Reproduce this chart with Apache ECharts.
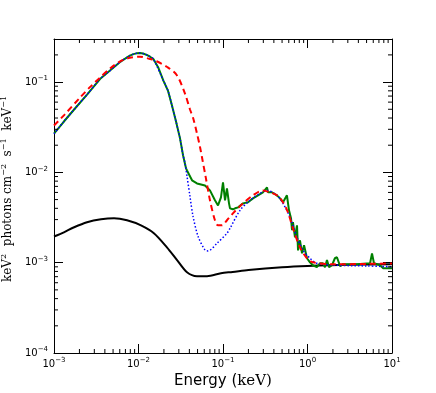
<!DOCTYPE html>
<html>
<head>
<meta charset="utf-8">
<script src="https://cdn.jsdelivr.net/npm/echarts@6.0.0/dist/echarts.min.js"></script>
<style>
  html, body { margin: 0; padding: 0; background: #fff; }
  #chart { width: 436px; height: 393px; }
</style>
</head>
<body>
<div id="chart"></div>
<script>
// energy (keV) and keV^2 flux
var blackE = [0.001, 0.00131, 0.00173, 0.00246, 0.0036, 0.00513, 0.00731, 0.0107, 0.0152, 0.0217, 0.0286, 0.0375, 0.0492, 0.0647, 0.0946, 0.13, 0.2, 0.5, 1, 3, 10];
var blackF = [1.95e-3, 2.17e-3, 2.47e-3, 2.81e-3, 3.03e-3, 3.11e-3, 2.95e-3, 2.59e-3, 2.12e-3, 1.48e-3, 1.07e-3, 7.85e-4, 7.1e-4, 7.1e-4, 7.65e-4, 7.9e-4, 8.3e-4, 8.9e-4, 9.2e-4, 9.5e-4, 9.6e-4];

var blueE = [0.001, 0.00131, 0.00173, 0.00246, 0.0035, 0.0046, 0.006, 0.0079, 0.0087, 0.0095, 0.0104, 0.0113, 0.0125, 0.0137, 0.015, 0.0197, 0.0223, 0.0249, 0.0278, 0.031, 0.0337, 0.0355, 0.0375, 0.0406, 0.0442, 0.0506, 0.0612, 0.0664, 0.0849, 0.1114, 0.121, 0.159, 0.209, 0.274, 0.332, 0.4355, 0.513, 0.621, 0.751, 0.885, 1.07, 1.29, 2, 5, 10];
var blueF = [0.0268, 0.0366, 0.0497, 0.0727, 0.108, 0.134, 0.166, 0.196, 0.204, 0.208, 0.210, 0.207, 0.200, 0.191, 0.180, 0.104, 0.0805, 0.0549, 0.0366, 0.0238, 0.0154, 0.01265, 9.08e-3, 5.46e-3, 3.27e-3, 1.97e-3, 1.38e-3, 1.35e-3, 1.64e-3, 2.12e-3, 2.4e-3, 3.8e-3, 4.91e-3, 5.85e-3, 6.32e-3, 5.57e-3, 4.54e-3, 3.18e-3, 1.91e-3, 1.37e-3, 1.12e-3, 9.87e-4, 9.4e-4, 9.2e-4, 9.0e-4];

var greenE = [0.001, 0.00131, 0.00173, 0.00246, 0.0035, 0.0046, 0.006, 0.0079, 0.0087, 0.0095, 0.0104, 0.0113, 0.0125, 0.0137, 0.015, 0.0172, 0.0197, 0.0223, 0.0249, 0.0278, 0.031, 0.0337, 0.0365, 0.0375, 0.043, 0.0492, 0.0612, 0.0701, 0.0803, 0.0873, 0.0946, 0.1, 0.1057, 0.1114, 0.1178, 0.121, 0.131, 0.139, 0.151, 0.1726, 0.1977, 0.2265, 0.2594, 0.297, 0.332, 0.341, 0.38, 0.4355, 0.473, 0.513, 0.571, 0.604, 0.638, 0.656, 0.673, 0.711, 0.751, 0.773, 0.815, 0.861, 0.91, 0.986, 1.07, 1.16, 1.29, 1.41, 1.52, 1.61, 1.7, 1.8, 1.95, 2.11, 2.23, 2.43, 2.63, 3.85, 5.5, 5.8, 6.12, 7.21, 7.82, 10];
var greenF = [0.0268, 0.0366, 0.0497, 0.0727, 0.108, 0.134, 0.166, 0.196, 0.204, 0.208, 0.210, 0.207, 0.200, 0.191, 0.180, 0.144, 0.104, 0.0805, 0.0549, 0.0366, 0.0238, 0.0154, 0.0111, 0.0105, 8.17e-3, 7.55e-3, 7.17e-3, 6.32e-3, 4.91e-3, 4.31e-3, 5.3e-3, 7.76e-3, 4.91e-3, 6.65e-3, 4.54e-3, 4.0e-3, 3.9e-3, 4.0e-3, 4.1e-3, 4.54e-3, 4.67e-3, 5.16e-3, 5.57e-3, 6.01e-3, 6.82e-3, 6.01e-3, 6.01e-3, 5.57e-3, 5.16e-3, 4.67e-3, 5.57e-3, 3.8e-3, 3.11e-3, 2.29e-3, 2.81e-3, 1.91e-3, 2.59e-3, 1.37e-3, 1.77e-3, 1.27e-3, 1.56e-3, 1.12e-3, 1.01e-3, 9.37e-4, 8.92e-4, 9.87e-4, 9.87e-4, 8.92e-4, 1.07e-3, 8.92e-4, 9.37e-4, 1.12e-3, 1.15e-3, 9.15e-4, 9.63e-4, 9.63e-4, 9.87e-4, 1.27e-3, 9.87e-4, 9.37e-4, 8.7e-4, 8.7e-4];

var redE = [0.001, 0.00131, 0.00203, 0.0027, 0.0035, 0.0046, 0.006, 0.0079, 0.0104, 0.0137, 0.0164, 0.0216, 0.0283, 0.0355, 0.0406, 0.0443, 0.0492, 0.0535, 0.0564, 0.0625, 0.0701, 0.0803, 0.0873, 0.0973, 0.1114, 0.131, 0.1726, 0.2265, 0.297, 0.36, 0.4355, 0.513, 0.587, 0.673, 0.815, 0.986, 1.16, 2, 5, 10];
var redF = [0.033, 0.0428, 0.0673, 0.089, 0.112, 0.141, 0.169, 0.186, 0.191, 0.180, 0.170, 0.148, 0.120, 0.0745, 0.05, 0.04, 0.027, 0.019, 0.0147, 8.8e-3, 4.91e-3, 2.95e-3, 2.59e-3, 2.59e-3, 2.95e-3, 3.52e-3, 4.54e-3, 5.57e-3, 6.32e-3, 6.01e-3, 5.57e-3, 4.67e-3, 3.61e-3, 2.4e-3, 1.48e-3, 1.12e-3, 1.01e-3, 9.6e-4, 9.7e-4, 9.8e-4];

// axis ranges and minor tick positions
var xMin = 1e-3, xMax = 10;
var yMin = 1e-4, yMax = 0.30;
var xMinor = [];
var yMinor = [];
[-3, -2, -1, 0].forEach(function (d) {
  for (var m = 2; m <= 9; m++) xMinor.push(m * Math.pow(10, d));
});
[-4, -3, -2, -1].forEach(function (d) {
  for (var m = 2; m <= 9; m++) {
    var v = m * Math.pow(10, d);
    if (v < yMax) yMinor.push(v);
  }
});

function pairs(xs, ys) {
  return xs.map(function (x, i) { return [x, ys[i]]; });
}

var myChart = echarts.init(document.getElementById('chart'));

var tickRich = {
  b: { fontFamily: 'DejaVu Sans', fontSize: 10, color: '#000', lineHeight: 14 },
  e: { fontFamily: 'DejaVu Sans', fontSize: 7, color: '#000', verticalAlign: 'top', lineHeight: 7 }
};
function powLabel(v) {
  var p = Math.round(Math.log(v) / Math.LN10);
  return '{b|10}{e|' + String(p).replace('-', '\u2212') + '}';
}

var axisLine = { show: true, onZero: false, lineStyle: { color: '#000', width: 1 } };
var axisTick = { show: true, inside: true, length: 9, lineStyle: { color: '#000', width: 1 } };

function minorTicks(isX) {
  return {
    type: 'custom',
    silent: true,
    clip: false,
    z: 10,
    data: isX ? xMinor.map(function (v) { return [v, yMin]; })
              : yMinor.map(function (v) { return [xMin, v]; }),
    renderItem: function (params, api) {
      var st = { stroke: '#000', lineWidth: 1 };
      var a, b;
      if (isX) {
        a = api.coord([api.value(0), yMin]);
        b = api.coord([api.value(0), yMax]);
        return { type: 'group', children: [
          { type: 'line', shape: { x1: a[0], y1: a[1], x2: a[0], y2: a[1] - 4 }, style: st },
          { type: 'line', shape: { x1: b[0], y1: b[1], x2: b[0], y2: b[1] + 4 }, style: st }
        ] };
      }
      a = api.coord([xMin, api.value(1)]);
      b = api.coord([xMax, api.value(1)]);
      return { type: 'group', children: [
        { type: 'line', shape: { x1: a[0], y1: a[1], x2: a[0] + 4, y2: a[1] }, style: st },
        { type: 'line', shape: { x1: b[0], y1: b[1], x2: b[0] - 4, y2: b[1] }, style: st }
      ] };
    }
  };
}

var option = {
  animation: false,
  grid: { left: 54, right: 44, top: 39, bottom: 40, containLabel: false, outerBoundsMode: 'none' },
  xAxis: [
    {
      type: 'log', logBase: 10, min: xMin, max: xMax, position: 'bottom',
      axisLine: axisLine, axisTick: axisTick, splitLine: { show: false },
      axisLabel: { margin: 4, formatter: powLabel, rich: tickRich },
      name: '{a|Energy (}{c|keV)}',
      nameLocation: 'middle', nameGap: 21,
      nameTextStyle: { rich: {
        a: { fontFamily: 'DejaVu Sans', fontSize: 15, color: '#000' },
        c: { fontFamily: 'DejaVu Serif', fontSize: 15, color: '#000' }
      } }
    },
    {
      type: 'log', logBase: 10, min: xMin, max: xMax, position: 'top',
      axisLine: axisLine, axisTick: axisTick, splitLine: { show: false },
      axisLabel: { show: false }
    }
  ],
  yAxis: [
    {
      type: 'log', logBase: 10, min: yMin, max: yMax, position: 'left',
      axisLine: axisLine, axisTick: axisTick, splitLine: { show: false },
      axisLabel: { margin: 6, formatter: powLabel, rich: tickRich, showMaxLabel: false },
      name: '{a|keV}{s|2}{a|  photons cm}{s|\u22122}{a|  s}{s|\u22121}{a|  keV}{s|\u22121}',
      nameLocation: 'middle', nameGap: 22, nameRotate: 90,
      nameTextStyle: { padding: [0, 0, 0, 14], rich: {
        a: { fontFamily: 'DejaVu Serif', fontSize: 12, color: '#000', lineHeight: 17 },
        s: { fontFamily: 'DejaVu Serif', fontSize: 8, color: '#000', verticalAlign: 'top', lineHeight: 8 }
      } }
    },
    {
      type: 'log', logBase: 10, min: yMin, max: yMax, position: 'right',
      axisLine: axisLine, axisTick: axisTick, splitLine: { show: false },
      axisLabel: { show: false }
    }
  ],
  series: [
    {
      name: 'total absorbed', type: 'line', data: pairs(blackE, blackF),
      showSymbol: false, smooth: 0.3, z: 3,
      lineStyle: { color: '#000000', width: 2 }
    },
    {
      name: 'data model', type: 'line', data: pairs(greenE, greenF),
      showSymbol: false, z: 4,
      lineStyle: { color: '#008000', width: 2 }
    },
    {
      name: 'disk', type: 'line', data: pairs(blueE, blueF),
      showSymbol: false, smooth: 0.3, z: 5,
      lineStyle: { color: '#0000ff', width: 1.5, type: [1.5, 2] }
    },
    {
      name: 'alt model', type: 'line', data: pairs(redE, redF),
      showSymbol: false, smooth: 0.3, z: 6,
      lineStyle: { color: '#ff0000', width: 2, type: [6, 4] }
    },
    minorTicks(true),
    minorTicks(false)
  ]
};
myChart.setOption(option);
</script>
</body>
</html>
